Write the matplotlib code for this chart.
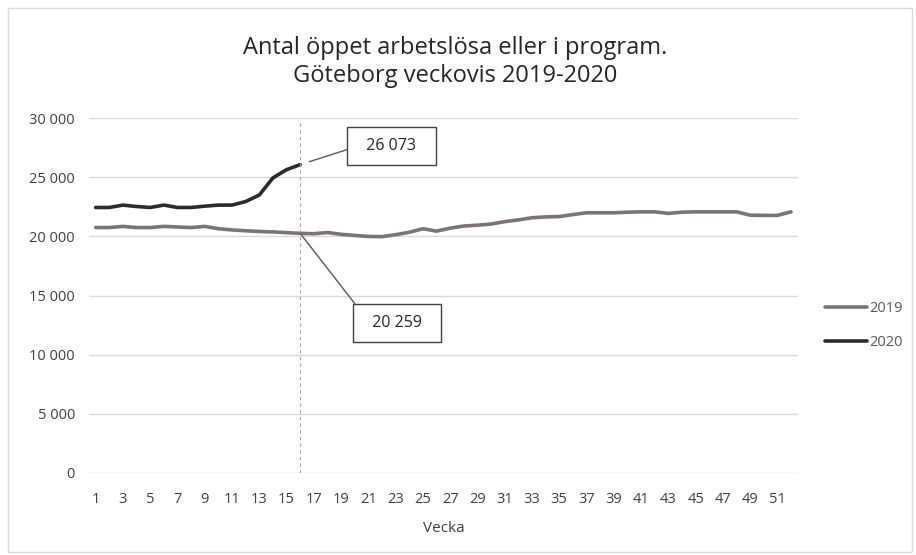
import matplotlib.pyplot as plt
import matplotlib.patches as patches
import matplotlib.ticker as ticker

plt.rcParams['font.family'] = ['Open Sans', 'DejaVu Sans']

weeks_2019 = list(range(1, 53))
vals_2019 = [20750, 20750, 20850, 20750, 20750, 20850, 20800, 20750, 20850, 20650,
             20550, 20480, 20420, 20380, 20320, 20259, 20230, 20330, 20180, 20080,
             20000, 19980, 20150, 20350, 20650, 20450, 20700, 20880, 20950, 21050,
             21250, 21400, 21580, 21650, 21680, 21850, 22000, 22000, 22000, 22050,
             22080, 22080, 21950, 22050, 22080, 22080, 22080, 22080, 21800, 21780,
             21780, 22080]
weeks_2020 = list(range(1, 17))
vals_2020 = [22450, 22450, 22650, 22530, 22450, 22650, 22450, 22450, 22560, 22650,
             22650, 22950, 23500, 24950, 25650, 26073]
mark_week = 16

fig = plt.figure(figsize=(9.16, 5.55), dpi=100)
ax = fig.add_axes([0.097, 0.148, 0.774, 0.639])

ax.plot(weeks_2019, vals_2019, color='#7b7375', lw=2.6, label='2019', solid_capstyle='round')
ax.plot(weeks_2020, vals_2020, color='#2b2b2b', lw=2.6, label='2020', solid_capstyle='round')
ax.axvline(mark_week, color='#a6a6a6', lw=0.8, ls=(0, (3, 3)), ymax=0.99)

ax.set_xlim(0.5, 52.5)
ax.set_ylim(0, 30000)
ax.set_xticks(weeks_2019[::2])
ax.yaxis.set_major_locator(ticker.MultipleLocator(5000))
ax.yaxis.set_major_formatter(ticker.FuncFormatter(lambda v, p: f'{int(v):,}'.replace(',', ' ')))
ax.grid(axis='y', color='#d9d9d9', lw=1)
ax.set_axisbelow(True)
for s in ax.spines.values():
    s.set_visible(False)
ax.tick_params(length=0, labelsize=10.5, colors='#404040')
ax.tick_params(axis='x', pad=14)
ax.tick_params(axis='y', pad=10)
ax.set_xlabel('Vecka', fontsize=11, color='#404040', labelpad=10)

box = dict(boxstyle='square,pad=0.7', fc='white', ec='#404040', lw=1)
ax.annotate('  ' + f'{vals_2020[-1]:,}'.replace(',', ' ') + '  ', xy=(mark_week, vals_2020[-1]),
            xytext=(22.7, 27650), ha='center', va='center', fontsize=11.5, color='#262626',
            bbox=box, arrowprops=dict(arrowstyle='-', color='#595959', lw=1,
                                      relpos=(0, 0.5), shrinkA=0, shrinkB=7))
ax.annotate('  ' + f'{vals_2019[mark_week - 1]:,}'.replace(',', ' ') + '  ', xy=(mark_week, vals_2019[mark_week - 1]),
            xytext=(23.1, 12650), ha='center', va='center', fontsize=11.5, color='#262626',
            bbox=box, arrowprops=dict(arrowstyle='-', color='#595959', lw=1,
                                      relpos=(0, 1), shrinkA=0, shrinkB=0))

fig.text(0.497, 0.888, 'Antal öppet arbetslösa eller i program.\nGöteborg veckovis 2019-2020',
         ha='center', va='center', fontsize=17, color='#262626', linespacing=1.25)

leg = ax.legend(loc='center left', bbox_to_anchor=(1.02, 0.415), frameon=False,
                fontsize=10.5, handlelength=2.9, handletextpad=0.1, labelspacing=1.3)
for t in leg.get_texts():
    t.set_color('#595959')

fig.patches.append(patches.Rectangle((0.009, 0.005), 0.987, 0.98, transform=fig.transFigure,
                                     fill=False, ec='#d9d9d9', lw=1))

fig.savefig('out.png', dpi=100)
